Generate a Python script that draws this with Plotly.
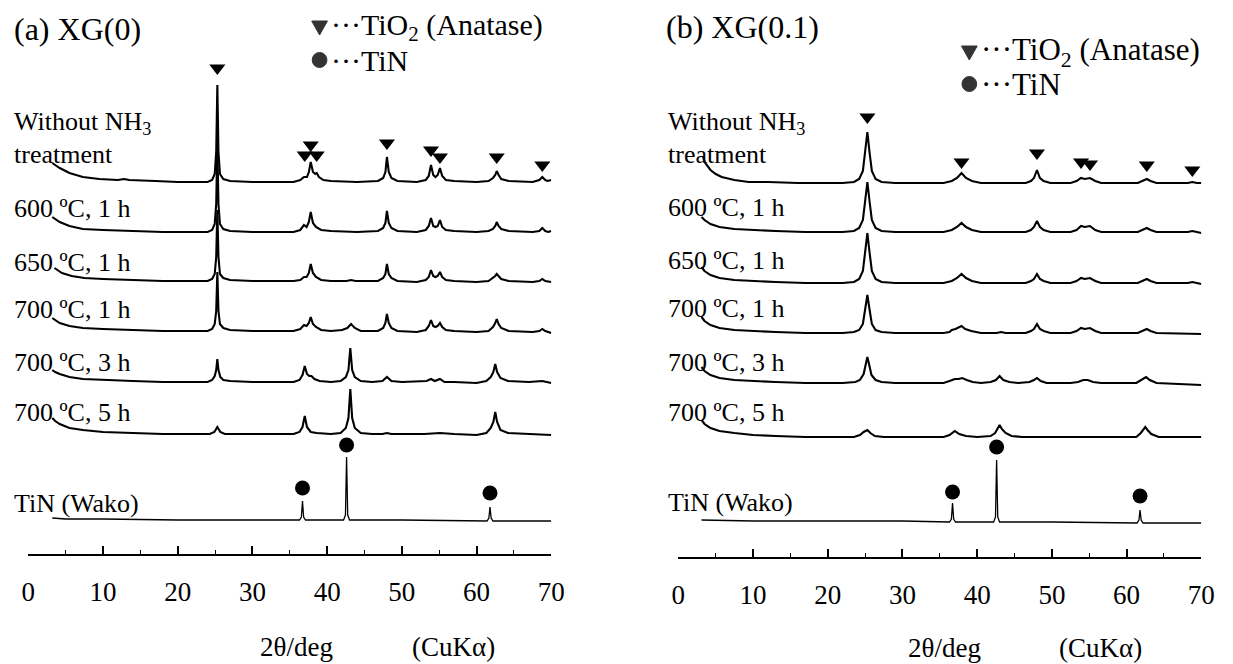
import plotly.graph_objects as go

W, H = 1233, 664

# ---------------- data: panel (a) XG(0)  (2theta [deg], intensity [a.u.]) ----------------
a_without = [(3.2,19),(3.6,17),(4.2,14),(5.5,9),(7.3,5),(9.5,3),(12.0,2),(12.8,3),(13.5,2),(17,1),(20,0),(24.0,0),
             (24.6,2),(24.95,8),(25.15,30),(25.3,97),(25.45,30),(25.65,8),(26.1,3),(27.0,1),(30,0),(35.5,0),
             (36.4,2),(36.9,5),(37.3,5),(37.55,10),(37.8,20),(38.1,10),(38.4,8),(38.6,9),(38.9,5),(39.5,2),(40.5,1),
             (44,0),(46.8,1),(47.5,4),(47.8,10),(48.0,25),(48.25,10),(48.6,4),(49.4,1),(52,0),(53.2,2),(53.6,6),
             (53.9,17),(54.2,7),(54.5,5),(54.8,7),(55.1,14),(55.4,6),(55.9,2),(57,1),(60,0),(61.6,1),(62.2,4),
             (62.5,7),(62.7,11),(62.95,7),(63.3,3),(64.3,1),(67.5,0),(68.4,2),(68.8,5),(69.2,2),(69.5,1),(70,2)]
a_600_1h = [(3.2,15),(3.6,13),(4.2,10),(5.5,6),(7.3,3),(10,2),(14,1),(18,0),(24.0,0),(24.6,2),(24.95,8),(25.15,28),
            (25.3,87),(25.45,28),(25.65,8),(26.1,3),(27,1),(30,0),(35.5,0),(36.4,2),(36.9,7),(37.25,5),(37.55,10),
            (37.8,20),(38.1,9),(38.5,5),(39.2,2),(40.5,1),(44,0),(46.8,1),(47.5,4),(47.8,9),(48.0,21),(48.25,9),
            (48.6,4),(49.4,1),(52,0),(53.2,2),(53.6,6),(53.9,14),(54.2,6),(54.5,5),(54.8,6),(55.1,12),(55.4,5),
            (55.9,2),(57,1),(60,0),(61.6,1),(62.2,3),(62.5,6),(62.7,10),(62.95,6),(63.3,3),(64.3,1),(67.5,0),
            (68.4,1),(68.8,4),(69.2,1),(69.6,0),(70,1)]
a_650_1h = [(3.5,13),(3.9,11),(4.5,8),(5.8,5),(7.5,3),(10,2),(14,1),(18,0),(24.0,0),(24.6,2),(24.95,7),(25.15,24),
            (25.3,71),(25.45,24),(25.65,7),(26.1,3),(27,1),(30,0),(35.5,0),(36.4,1),(36.9,4),(37.25,4),(37.55,8),
            (37.8,17),(38.1,8),(38.5,4),(39.2,1),(40.5,0),(42.6,0),(43.2,1),(43.8,0),(46.8,0),(47.5,3),(47.8,7),
            (48.0,17),(48.25,7),(48.6,3),(49.4,0),(52,-1),(53.2,1),(53.6,4),(53.9,11),(54.2,5),(54.5,4),(54.8,5),
            (55.1,9),(55.4,4),(55.9,1),(57,0),(60,-1),(61.6,0),(62.2,3),(62.5,5),(62.7,7),(62.95,5),(63.3,2),
            (64.3,0),(67.5,-1),(68.4,0),(68.8,2),(69.2,0),(70,-1)]
a_700_1h = [(3.2,13),(3.6,11),(4.2,8),(5.5,5),(7.3,3),(10,2),(14,1),(18,0),(24.0,0),(24.6,2),(24.95,7),(25.15,20),
            (25.3,59),(25.45,20),(25.65,7),(26.1,3),(27,1),(30,0),(35.5,0),(36.4,2),(36.9,6),(37.25,5),(37.55,8),
            (37.8,14),(38.1,7),(38.5,4),(39.2,1),(40.5,0),(42.0,1),(42.7,3),(43.2,7),(43.7,3),(44.5,0),(46.8,0),
            (47.5,3),(47.8,8),(48.0,17),(48.25,8),(48.6,3),(49.4,0),(52,-1),(53.2,1),(53.6,5),(53.9,11),(54.2,5),
            (54.5,4),(54.8,5),(55.1,8),(55.4,4),(55.9,1),(57,0),(60,-1),(61.6,0),(62.2,4),(62.5,8),(62.7,12),
            (62.95,7),(63.3,3),(64.3,0),(67.5,-1),(68.4,0),(68.8,2),(69.2,0),(70,-2)]
a_700_3h = [(3.2,12),(3.6,10),(4.2,8),(5.5,5),(7.3,3),(10,2),(14,1),(18,0),(24.0,0),(24.6,2),(24.95,6),(25.15,12),
            (25.3,23),(25.45,12),(25.7,5),(26.1,2),(27,1),(30,0),(35.5,0),(36.3,2),(36.7,7),(37.0,16),(37.3,8),
            (37.6,6),(37.9,6),(38.3,3),(39.0,1),(40.5,0),(41.8,1),(42.5,5),(42.85,12),(43.1,34),(43.35,12),
            (43.7,5),(44.5,1),(46,0),(47.4,1),(48.0,5),(48.6,1),(50,0),(53.3,1),(53.9,3),(54.4,1),(55.1,3),
            (55.7,0),(57,0),(60,-1),(61.3,1),(61.9,5),(62.25,10),(62.5,18),(62.75,10),(63.2,4),(64.2,1),(67,0),
            (68.8,1),(70,-1)]
a_700_5h = [(3.2,16),(3.6,13),(4.2,10),(5.5,6),(7.3,4),(10,2),(14,1),(18,0),(24.3,0),(24.9,2),(25.3,7),(25.7,2),
            (26.3,0),(30,0),(35.5,0),(36.3,2),(36.7,7),(37.0,18),(37.3,7),(37.8,2),(38.6,1),(40.5,0),(41.8,1),
            (42.5,6),(42.85,16),(43.1,45),(43.35,16),(43.7,6),(44.5,1),(46,0),(47.4,0),(48.0,1),(48.6,0),(53,0),
            (55.1,1),(57,0),(60,-1),(61.3,1),(61.9,6),(62.25,12),(62.5,22),(62.75,12),(63.2,4),(64.2,1),(67,0),
            (70,-1)]
a_tin = [(3.2,2),(5,1),(10,1),(20,0),(30,0),(36.3,0),(36.55,3),(36.7,19),(36.85,3),(37.1,0),(42.2,0),(42.45,5),
         (42.6,63),(42.75,5),(43.0,0),(50,0),(61.4,-1),(61.65,2),(61.8,13),(61.95,2),(62.2,-1),(70,-1)]
a_curves = [a_without, a_600_1h, a_650_1h, a_700_1h, a_700_3h, a_700_5h, a_tin]
a_offsets = [482, 432, 383, 333, 282, 230, 144]
a_labels = ["Without NH<sub>3</sub>", "600 ºC, 1 h", "650 ºC, 1 h", "700 ºC, 1 h",
            "700 ºC, 3 h", "700 ºC, 5 h", "TiN (Wako)"]
# peak markers (2theta, height above the curve baseline)
a_anatase_x = [25.3, 37.0, 37.8, 38.6, 48.0, 53.9, 55.1, 62.7, 68.8]
a_anatase_h = [114, 27, 37, 27, 39, 32, 25, 25, 17]
a_tin_x = [36.7, 42.6, 61.8]
a_tin_h = [32, 75, 27]

# ---------------- data: panel (b) XG(0.1) ----------------
b_without = [(3.3,26),(3.6,20),(4.3,13),(5.0,9),(5.8,6),(7.5,3),(9.4,1),(12,1),(16,0),(22,0),(23.5,1),(24.2,4),
             (24.7,12),(25.0,30),(25.3,51),(25.6,30),(25.9,12),(26.4,4),(27.2,1),(29,0),(35.5,0),(36.6,2),(37.3,5),
             (37.9,10),(38.5,5),(39.3,2),(40.5,0),(46.5,0),(47.2,2),(47.6,5),(48.0,13),(48.4,5),(48.9,2),(49.8,0),
             (52.5,0),(53.3,2),(53.9,5),(54.4,4),(55.1,5),(55.8,2),(56.6,0),(61.5,0),(62.2,2),(62.7,4),(63.2,2),
             (64,0),(68.2,0),(68.8,1),(69.4,0),(70,0)]
b_600_1h = [(3.1,15),(3.5,12),(4.3,8),(5.5,5),(7.5,3),(10,2),(13,1),(17,0),(22,0),(23.5,1),(24.2,4),(24.7,12),
            (25.0,30),(25.3,50),(25.6,30),(25.9,12),(26.4,4),(27.2,1),(29,0),(35.5,0),(36.6,2),(37.3,5),(37.9,9),
            (38.5,5),(39.3,2),(40.5,0),(46.5,0),(47.2,2),(47.6,5),(48.0,11),(48.4,5),(48.9,2),(49.8,0),(52.5,0),
            (53.3,2),(53.9,6),(54.4,5),(55.1,6),(55.8,2),(56.6,0),(61.5,0),(62.2,2),(62.7,4),(63.2,2),(64,0),
            (68.2,0),(68.8,1),(69.4,0),(70,-1)]
b_650_1h = [(3.1,16),(3.5,12),(4.3,8),(5.5,5),(7.5,3),(10,2),(13,1),(17,0),(22,0),(23.5,1),(24.2,4),(24.7,12),
            (25.0,30),(25.3,50),(25.6,30),(25.9,12),(26.4,4),(27.2,1),(29,0),(35.5,0),(36.6,2),(37.3,5),(37.9,9),
            (38.5,5),(39.3,2),(40.5,0),(46.5,0),(47.2,2),(47.6,4),(48.0,9),(48.4,4),(48.9,2),(49.8,0),(52.5,0),
            (53.3,2),(53.9,5),(54.4,4),(55.1,5),(55.8,2),(56.6,0),(61.5,0),(62.2,2),(62.7,4),(63.2,2),(64,0),
            (68.2,0),(68.8,1),(69.4,0),(70,-1)]
b_700_1h = [(3.1,16),(3.5,12),(4.3,8),(5.5,5),(7.5,3),(10,2),(13,1),(17,0),(22,0),(23.5,1),(24.2,3),(24.7,9),
            (25.0,23),(25.3,38),(25.6,23),(25.9,9),(26.4,3),(27.2,1),(29,0),(35.5,0),(36.3,1),(36.6,3),(37.1,4),
            (37.6,6),(37.9,7),(38.4,4),(39.2,2),(40.5,0),(42.6,0),(43.2,1),(43.8,0),(46.5,0),(47.2,2),(47.6,4),
            (48.0,9),(48.4,4),(48.9,2),(49.8,0),(52.5,0),(53.3,2),(53.9,5),(54.4,4),(55.1,5),(55.8,2),(56.6,0),
            (61.5,0),(62.2,2),(62.7,4),(63.2,2),(64,0),(70,-1)]
b_700_3h = [(3.1,16),(3.5,12),(4.3,8),(5.5,5),(7.5,3),(10,2),(13,1),(17,0),(22,0),(23.7,1),(24.3,3),(24.8,9),
            (25.05,18),(25.3,26),(25.55,18),(25.85,8),(26.4,3),(27.2,1),(29,0),(35.5,0),(36.3,2),(37.0,4),(37.5,4),
            (38.0,5),(38.6,3),(39.4,1),(40.5,0),(41.8,1),(42.5,3),(43.0,7),(43.5,3),(44.3,1),(45.5,0),(47.0,1),
            (47.6,3),(48.0,5),(48.5,2),(49.3,0),(52.5,0),(53.5,1),(54.2,3),(54.8,3),(55.5,1),(56.6,0),(61.3,0),
            (62.0,3),(62.6,6),(63.1,3),(64,0),(70,-2)]
b_700_5h = [(3.1,17),(3.5,13),(4.3,9),(5.5,6),(7.5,4),(10,2),(13,1),(17,0),(23.5,0),(24.3,2),(24.8,5),(25.3,7),
            (25.7,4),(26.3,1),(27.5,0),(35.5,0),(36.3,2),(37.0,6),(37.6,3),(38.5,1),(40,0),(41.8,1),(42.4,4),
            (42.8,9),(43.0,12),(43.3,8),(43.8,4),(44.6,1),(46,0),(48.0,0),(55,0),(61.3,0),(61.9,4),(62.3,8),
            (62.5,10),(62.8,7),(63.3,3),(64.3,0),(70,0)]
b_tin = [(3.1,1),(10,0),(20,0),(30,0),(36.3,-1),(36.55,2),(36.7,18),(36.85,2),(37.1,-1),(42.2,-1),(42.45,4),
         (42.6,61),(42.75,4),(43.0,-1),(50,-1),(61.4,-2),(61.65,1),(61.8,11),(61.95,1),(62.2,-2),(70,-2)]
b_curves = [b_without, b_600_1h, b_650_1h, b_700_1h, b_700_3h, b_700_5h, b_tin]
b_offsets = [481, 432, 381, 331, 281, 227, 143]
b_labels = a_labels
b_anatase_x = [25.3, 37.9, 48.0, 53.9, 55.1, 62.7, 68.8]
b_anatase_h = [66, 21, 30, 21, 19, 18, 13]
b_tin_x = [36.7, 42.6, 61.8]
b_tin_h = [29, 74, 25]

# ---------------- figure ----------------
SERIF = "Liberation Serif, Times New Roman, serif"
fig = go.Figure()


def add_panel(curves, offsets, an_x, an_h, tin_x, tin_h, xa, ya):
    for i, pts in enumerate(curves):
        w = 1.3 if i == len(curves) - 1 else 2.1
        fig.add_trace(go.Scatter(x=[p[0] for p in pts], y=[offsets[i] + p[1] for p in pts],
                                 mode="lines", line=dict(color="black", width=w),
                                 xaxis=xa, yaxis=ya, hoverinfo="skip", showlegend=False))
    fig.add_trace(go.Scatter(x=an_x, y=[offsets[0] + h for h in an_h], mode="markers",
                             marker=dict(symbol="triangle-down", size=14, color="black"),
                             xaxis=xa, yaxis=ya, hoverinfo="skip", showlegend=False))
    fig.add_trace(go.Scatter(x=tin_x, y=[offsets[-1] + h for h in tin_h], mode="markers",
                             marker=dict(symbol="circle", size=15, color="black"),
                             xaxis=xa, yaxis=ya, hoverinfo="skip", showlegend=False))


add_panel(a_curves, a_offsets, a_anatase_x, a_anatase_h, a_tin_x, a_tin_h, "x", "y")
add_panel(b_curves, b_offsets, b_anatase_x, b_anatase_h, b_tin_x, b_tin_h, "x2", "y2")

xcommon = dict(range=[0, 70], showline=True, linecolor="black", linewidth=1.6, mirror=False,
               ticks="inside", ticklen=8, tickwidth=1.6, tickcolor="black", tick0=0, dtick=10,
               minor=dict(ticks="inside", ticklen=4, tickwidth=1.4, tickcolor="black", dtick=5, showgrid=False),
               showgrid=False, zeroline=False,
               tickfont=dict(family=SERIF, size=27, color="black"), ticklabelstandoff=13,
               fixedrange=True)
AX_A, AX_B = 554, 557  # pixel rows of the two axis lines

fig.update_layout(
    width=W, height=H, margin=dict(l=0, r=0, t=0, b=0),
    paper_bgcolor="white", plot_bgcolor="rgba(0,0,0,0)", showlegend=False,
    xaxis=dict(xcommon, domain=[21.7 / W, 553.7 / W], anchor="y"),
    xaxis2=dict(xcommon, domain=[683.0 / W, 1215.0 / W], anchor="y2"),
    yaxis=dict(range=[H - AX_A, H], domain=[(H - AX_A) / H, 1], visible=False, fixedrange=True),
    yaxis2=dict(range=[H - AX_B, H], domain=[(H - AX_B) / H, 1], visible=False, fixedrange=True),
)


def px(x):
    return x / W


def py(y):
    return 1 - y / H


def txt(x, y, text, size=26, anchor="left", color="black"):
    fig.add_annotation(x=px(x), y=py(y), xref="paper", yref="paper", text=text,
                       showarrow=False, xanchor=anchor, yanchor="middle", borderpad=0,
                       font=dict(family=SERIF, size=size, color=color))


# panel titles
txt(6, 29, "(a) XG(0)", size=32)
txt(669, 27, "(b) XG(0.1)", size=32)

# legends: symbol keys drawn as shapes, texts as annotations
LEG_GREY = "#333333"
for lx, ly1, ly2, fs in [(318, 27, 60, 30), (979, 52, 84, 31)]:
    tri = "M {:.5f},{:.5f} L {:.5f},{:.5f} L {:.5f},{:.5f} Z".format(
        px(lx - 8), py(ly1 - 6), px(lx + 8), py(ly1 - 6), px(lx), py(ly1 + 8))
    fig.add_shape(type="path", path=tri, xref="paper", yref="paper",
                  fillcolor=LEG_GREY, line=dict(color=LEG_GREY, width=1))
    fig.add_shape(type="circle", xref="paper", yref="paper",
                  x0=px(lx - 7.5), x1=px(lx + 7.5), y0=py(ly2 + 7.5), y1=py(ly2 - 7.5),
                  fillcolor=LEG_GREY, line=dict(color=LEG_GREY, width=1))
    txt(lx + 11, ly1, "···TiO<sub>2</sub> (Anatase)", size=fs)
    txt(lx + 11, ly2, "···TiN", size=fs)

# curve labels
a_label_y = [123, 208, 262, 309, 362, 412, 503]
b_label_y = [123, 207, 260, 308, 362, 412, 502]
for lx, labels, ys in [(6, a_labels, a_label_y), (671, b_labels, b_label_y)]:
    for lab, yy in zip(labels, ys):
        txt(lx, yy, lab, size=26)
    txt(lx, ys[0] + 31, "treatment", size=26)

# axis titles
for c1, c2, yy in [(295, 454, 647), (954, 1112, 648)]:
    txt(c1, yy, "2θ/deg", size=27, anchor="center")
    txt(c2, yy, "(CuKα)", size=27, anchor="center")

fig.write_html("out.html")
